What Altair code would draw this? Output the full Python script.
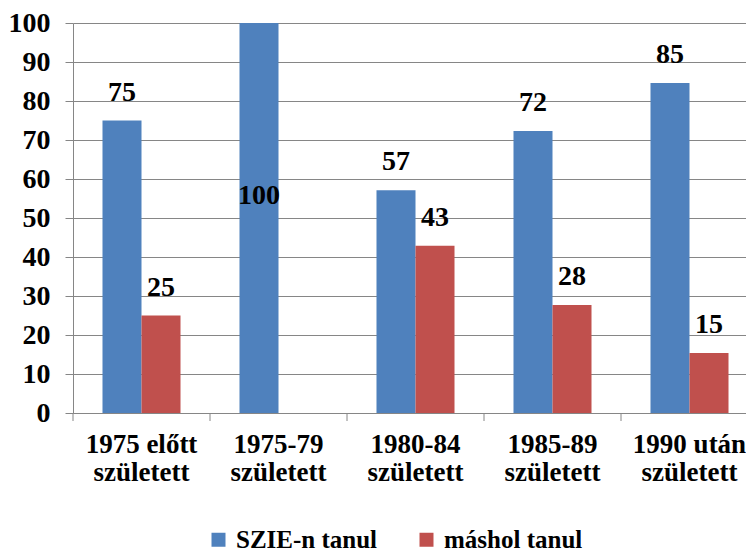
import altair as alt
import pandas as pd

categories = ["1975 előtt született", "1975-79 született", "1980-84 született",
              "1985-89 született", "1990 után született"]
series = ["SZIE-n tanul", "máshol tanul"]
szie_values = [75, 100, 57.1, 72.3, 84.6]
mashol_values = [25, 0, 42.9, 27.7, 15.4]
colors = ["#4F81BD", "#C0504D"]
y_ticks = [0, 10, 20, 30, 40, 50, 60, 70, 80, 90, 100]

rows = []
for c, a, b in zip(categories, szie_values, mashol_values):
    rows.append({"cat": c, "series": series[0], "value": a})
    rows.append({"cat": c, "series": series[1], "value": b})
df = pd.DataFrame(rows)
cats_df = pd.DataFrame({"cat": categories})

FONT = "'Liberation Serif', 'Times New Roman', Times, serif"
FS = 28
W, H = 685, 390

xaxis = alt.Axis(ticks=False, domain=True, domainColor="#868686",
                 labelAngle=0, labelFont=FONT, labelFontSize=27,
                 labelFontWeight="bold", labelColor="black",
                 labelPadding=18, labelLineHeight=28,
                 labelExpr="[slice(datum.label, 0, lastindexof(datum.label, ' ')), slice(datum.label, lastindexof(datum.label, ' ') + 1)]")
xscale = alt.Scale(paddingInner=0, paddingOuter=0)
xoff = alt.XOffset("series:N", sort=series,
                   scale=alt.Scale(paddingInner=0, paddingOuter=0.756))
yaxis = alt.Axis(values=y_ticks, labelOverlap=False, grid=True,
                 gridColor="#868686", gridWidth=1,
                 tickColor="#868686", tickSize=8,
                 domain=True, domainColor="#868686",
                 labelFont=FONT, labelFontSize=FS, labelFontWeight="bold",
                 labelColor="black", labelPadding=15)
yscale = alt.Scale(domain=[0, 100], nice=False)


def X(**kw):
    return alt.X("cat:N", sort=categories, title=None, scale=xscale, axis=xaxis, **kw)


def Y(field):
    return alt.Y(field, title=None, scale=yscale, axis=yaxis)


bars = alt.Chart(df).mark_bar().encode(
    x=X(), xOffset=xoff, y=Y("value:Q"),
    color=alt.Color("series:N", sort=series,
                    scale=alt.Scale(domain=series, range=colors),
                    legend=alt.Legend(title=None, orient="none", direction="horizontal",
                                      legendX=133, legendY=504, columns=2,
                                      symbolType="square", symbolSize=196,
                                      symbolStrokeWidth=0, columnPadding=36,
                                      labelFont=FONT, labelFontSize=25,
                                      labelFontWeight="bold", labelColor="black",
                                      labelOffset=5, labelLimit=300)),
)

labels = alt.Chart(df).transform_filter(
    "datum.value > 0 && datum.value < 100"
).transform_calculate(txt="format(datum.value, '.0f')").mark_text(
    font=FONT, fontSize=FS, fontWeight="bold", color="black",
    baseline="middle", dy=-28
).encode(x=X(), xOffset=xoff, y=Y("value:Q"), text="txt:N")

label100 = alt.Chart(df).transform_filter("datum.value >= 100").transform_calculate(
    txt="format(datum.value, '.0f')", mid="datum.value / 2"
).mark_text(
    font=FONT, fontSize=FS, fontWeight="bold", color="black",
    baseline="middle", dy=-22
).encode(x=X(), xOffset=xoff, y=Y("mid:Q"), text="txt:N")

ticks = alt.Chart(cats_df).mark_rule(color="#868686", strokeWidth=1).encode(
    x=X(bandPosition=0),
    y=alt.value(H), y2=alt.value(H + 8))

chart = alt.layer(bars, labels, label100, ticks).properties(
    width=W, height=H, padding={"left": 0, "top": 1, "right": -12, "bottom": 0}
).configure_view(stroke=None).configure_scale(bandPaddingInner=0)

chart.save("out.html", embed_options={"renderer": "svg", "actions": False})
